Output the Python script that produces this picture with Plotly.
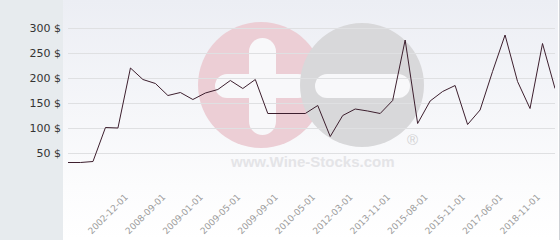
import base64
import plotly.graph_objects as go

# ---- data ----
prices = [31, 31, 33, 101, 100, 220, 197, 189, 165, 171,
          157, 170, 177, 195, 179, 197, 129, 129, 129, 129,
          145, 83, 125, 138, 134, 129, 155, 276, 109, 154,
          173, 185, 107, 136, 213, 286, 193, 139, 269, 179]
x_tick_labels = ["2002-12-01", "2008-09-01", "2009-01-01", "2009-05-01",
                 "2009-09-01", "2010-05-01", "2012-03-01", "2013-11-01",
                 "2015-08-01", "2015-11-01", "2017-06-01", "2018-11-01"]
y_tick_values = [0, 50, 100, 150, 200, 250, 300]

# ---- geometry helpers (pixel -> paper) ----
W, H = 560, 240
ML, MR, MT, MB = 68, 5, 8, 62
PW, PH = W - ML - MR, H - MT - MB


def px(x):
    return (x - ML) / PW


def py(y):
    return (H - MB - y) / PH


idx = list(range(len(prices)))
first_tick, tick_step = 5, 3
x_tick_vals = [first_tick + tick_step * i for i in range(len(x_tick_labels))]
y_tick_text = ["" if v == 0 else f"{v} $" for v in y_tick_values]

fig = go.Figure()
fig.add_trace(go.Scatter(x=idx, y=prices, mode="lines",
                         line=dict(color="#3d1f2e", width=1),
                         hoverinfo="skip", showlegend=False))

# gradient background as an SVG image
svg = ('<svg xmlns="http://www.w3.org/2000/svg" width="100" height="100" preserveAspectRatio="none">'
       '<defs><linearGradient id="g" x1="0" y1="0" x2="0" y2="1">'
       '<stop offset="0" stop-color="#eceef4"/>'
       '<stop offset="0.78" stop-color="#fcfcfd"/>'
       '<stop offset="1" stop-color="#ffffff"/>'
       '</linearGradient></defs>'
       '<rect width="100" height="100" fill="url(#g)"/></svg>')
src = "data:image/svg+xml;base64," + base64.b64encode(svg.encode()).decode()

shapes = []
# left panel
shapes.append(dict(type="rect", xref="paper", yref="paper", x0=px(0), x1=px(63),
                   y0=py(H), y1=py(0), fillcolor="#e7ebee", line=dict(width=0), layer="below"))
# right border
shapes.append(dict(type="rect", xref="paper", yref="paper", x0=px(559), x1=px(560),
                   y0=py(H), y1=py(0), fillcolor="#cfd2d6", line=dict(width=0), layer="below"))


def circle(cx, cy, r, color):
    return dict(type="circle", xref="paper", yref="paper",
                x0=px(cx - r), x1=px(cx + r), y0=py(cy + r), y1=py(cy - r),
                fillcolor=color, line=dict(width=0), layer="below")


def rect(x0, x1, y0, y1, color):
    return dict(type="rect", xref="paper", yref="paper",
                x0=px(x0), x1=px(x1), y0=py(y1), y1=py(y0),
                fillcolor=color, line=dict(width=0), layer="below")


def capsule_h(x0, x1, y0, y1, color):
    r = (y1 - y0) / 2
    cy = (y0 + y1) / 2
    return [rect(x0 + r, x1 - r, y0, y1, color),
            circle(x0 + r, cy, r, color), circle(x1 - r, cy, r, color)]


def capsule_v(x0, x1, y0, y1, color):
    r = (x1 - x0) / 2
    cx = (x0 + x1) / 2
    return [rect(x0, x1, y0 + r, y1 - r, color),
            circle(cx, y0 + r, r, color), circle(cx, y1 - r, r, color)]


white = "#f8f8fa"
shapes.append(circle(261, 85, 63, "#ecced5"))
shapes += capsule_v(249, 276, 38, 135, white)
shapes += capsule_h(215, 310, 74, 98, white)
shapes.append(circle(362, 85, 62, "#d8d8da"))
shapes += capsule_h(315, 410, 74, 98, white)

annotations = [
    dict(text="<b>www.Wine-Stocks.com</b>", xref="paper", yref="paper",
         x=px(312), y=py(161), showarrow=False, xanchor="center", yanchor="middle",
         font=dict(family="Liberation Sans", size=15, color="#e4e4e7")),
    dict(text="®", xref="paper", yref="paper",
         x=px(412), y=py(139), showarrow=False, xanchor="center", yanchor="middle",
         font=dict(family="Liberation Sans", size=15, color="#d2d2d4")),
]

fig.update_layout(
    width=W, height=H,
    margin=dict(l=ML, r=MR, t=MT, b=MB, pad=0, autoexpand=False),
    paper_bgcolor="white", plot_bgcolor="rgba(0,0,0,0)",
    shapes=shapes, annotations=annotations,
    images=[dict(source=src, xref="paper", yref="paper", x=px(63), y=py(0),
                 sizex=(558 - 63) / PW, sizey=H / PH, xanchor="left", yanchor="top",
                 sizing="stretch", layer="below")],
    xaxis=dict(range=[0, len(prices) - 1], showgrid=False, zeroline=False, showline=False,
               automargin=False,
               tickmode="array", tickvals=x_tick_vals, ticktext=x_tick_labels,
               tickangle=-45, ticks="", ticklabelstandoff=11, ticklabelshift=-5,
               tickfont=dict(family="DejaVu Sans", size=9, color="#9c9c9c")),
    yaxis=dict(range=[0, 340], showgrid=True, gridcolor="#dfe0e2", gridwidth=1,
               zeroline=False, showline=False, ticks="", automargin=False,
               tickmode="array", tickvals=y_tick_values, ticktext=y_tick_text,
               ticklabelstandoff=6,
               tickfont=dict(family="DejaVu Sans", size=11, color="#333333")),
)

fig.write_html("out.html")
